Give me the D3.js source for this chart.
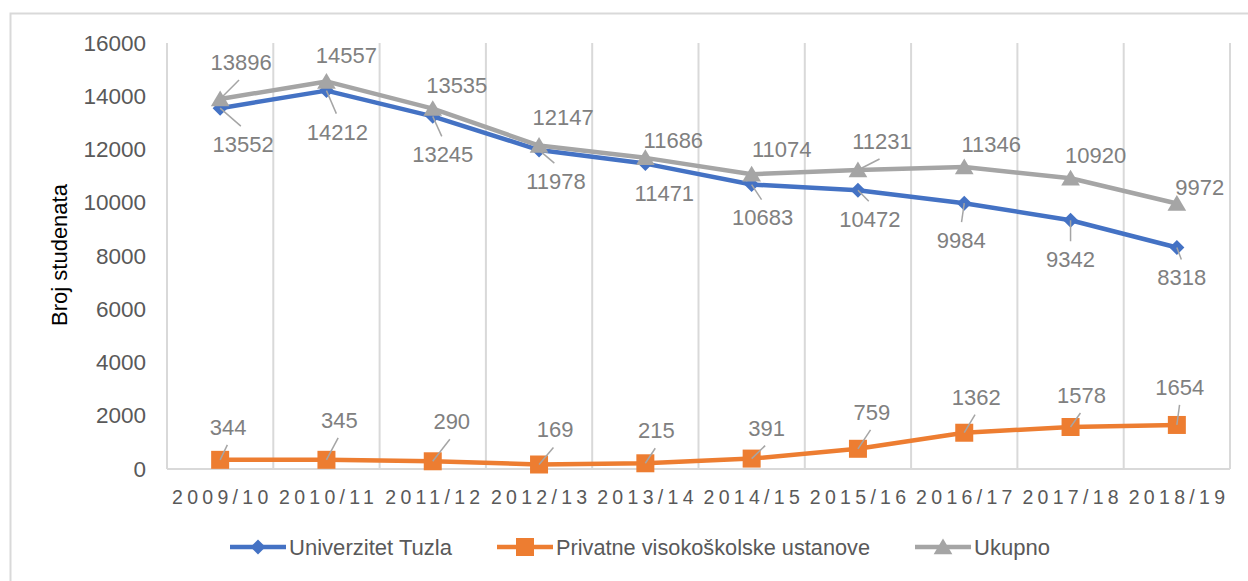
<!DOCTYPE html>
<html>
<head>
<meta charset="utf-8">
<script src="https://cdn.jsdelivr.net/npm/d3@7"></script>
<style>
  body { margin: 0; background: #fff; }
  svg { display: block; }
</style>
</head>
<body>
<svg id="chart" width="1248" height="581"></svg>
<script>
// data
const years = ["2009/10", "2010/11", "2011/12", "2012/13", "2013/14", "2014/15", "2015/16", "2016/17", "2017/18", "2018/19"];
const tuzla = [13552, 14212, 13245, 11978, 11471, 10683, 10472, 9984, 9342, 8318];
const privatne = [344, 345, 290, 169, 215, 391, 759, 1362, 1578, 1654];
const ukupno = [13896, 14557, 13535, 12147, 11686, 11074, 11231, 11346, 10920, 9972];
const yTicks = [0, 2000, 4000, 6000, 8000, 10000, 12000, 14000, 16000];

// where the data labels sit relative to their point (as in the picture), and which get a leader line
const tuzlaLbl = [[23, 36], [11, 41], [10, 38], [17, 31], [19, 29], [11, 33], [12, 29], [-3, 37], [0, 39], [5, 30]];
const privLbl = [[8, -33], [13, -40], [19, -40], [16, -35], [11, -33], [15, -31], [14, -37], [12, -36], [11, -32], [3, -38]];
const ukupLbl = [[21, -37], [20, -26], [24, -24], [24, -29], [28, -18], [30, -25], [24, -29], [27, -23], [25, -23], [23, -16]];
const tuzlaLead = [1, 1, 1, 1, 0, 1, 1, 1, 1, 1];
const privLead = [1, 1, 1, 1, 1, 1, 1, 1, 1, 1];
const ukupLead = [1, 0, 0, 0, 0, 0, 1, 0, 0, 0];

const svg = d3.select("#chart");
const plotL = 167, plotR = 1230, plotT = 43, plotB = 469;

const x = d3.scaleBand().domain(years).range([plotL, plotR]);
const y = d3.scaleLinear().domain([0, 16000]).range([plotB, plotT]);
const cx = d => x(d) + x.bandwidth() / 2;

// outer frame (top + left only visible)
svg.append("path")
    .attr("d", `M10.5,581 V13.5 H1248`)
    .attr("fill", "none")
    .attr("stroke", "#d9d9d9")
    .attr("stroke-width", 2);

// vertical gridlines
svg.append("g")
    .selectAll("line")
    .data(d3.range(years.length + 1))
    .join("line")
    .attr("x1", i => plotL + i * x.bandwidth())
    .attr("x2", i => plotL + i * x.bandwidth())
    .attr("y1", plotT)
    .attr("y2", plotB)
    .attr("stroke", "#d9d9d9")
    .attr("stroke-width", 2);

svg.append("line")
    .attr("x1", plotL).attr("x2", plotR)
    .attr("y1", plotB).attr("y2", plotB)
    .attr("stroke", "#d9d9d9")
    .attr("stroke-width", 2);

// y axis
const yAxis = svg.append("g")
    .attr("transform", `translate(${plotL},0)`)
    .call(d3.axisLeft(y).tickValues(yTicks).tickSize(0).tickPadding(21).tickFormat(d3.format("d")));
yAxis.select(".domain").remove();
yAxis.selectAll("text")
    .attr("font-family", "'Liberation Sans', Arial, sans-serif")
    .attr("font-size", 22.5)
    .attr("fill", "#595959");

// x labels
const ls = 4.3;
svg.append("g")
    .selectAll("text")
    .data(years)
    .join("text")
    .attr("x", d => cx(d) + ls / 2)
    .attr("y", 504)
    .attr("text-anchor", "middle")
    .attr("font-family", "'Liberation Sans', Arial, sans-serif")
    .attr("font-size", 19.5)
    .attr("letter-spacing", ls)
    .attr("fill", "#595959")
    .text(d => d);

// y title
svg.append("text")
    .attr("transform", "translate(67,255) rotate(-90)")
    .attr("text-anchor", "middle")
    .attr("font-family", "'Liberation Sans', Arial, sans-serif")
    .attr("font-size", 22)
    .attr("fill", "#000")
    .text("Broj studenata");

// marker shapes
const diamond = r => `M0,${-r}L${r},0L0,${r}L${-r},0Z`;
const square = r => `M${-r},${-r}H${r}V${r}H${-r}Z`;
const triangle = r => `M0,${-r}L${r * 1.1},${r * 0.85}H${-r * 1.1}Z`;

const series = [
    {name: "Univerzitet Tuzla", values: tuzla, color: "#4472C4", marker: diamond(7.5), lbl: tuzlaLbl, lead: tuzlaLead, below: true},
    {name: "Privatne visokoškolske ustanove", values: privatne, color: "#ED7D31", marker: square(9), lbl: privLbl, lead: privLead, below: false},
    {name: "Ukupno", values: ukupno, color: "#A5A5A5", marker: triangle(8.5), lbl: ukupLbl, lead: ukupLead, below: false}
];

const line = d3.line()
    .x((d, i) => cx(years[i]))
    .y(d => y(d));

series.forEach(s => {
    const g = svg.append("g");
    g.append("path")
        .attr("d", line(s.values))
        .attr("fill", "none")
        .attr("stroke", s.color)
        .attr("stroke-width", 4.5)
        .attr("stroke-linejoin", "round");
    g.selectAll(".mk")
        .data(s.values)
        .join("path")
        .attr("class", "mk")
        .attr("transform", (d, i) => `translate(${cx(years[i])},${y(d)})`)
        .attr("d", s.marker)
        .attr("fill", s.color);
});

// data labels and leader lines
series.forEach(s => {
    const g = svg.append("g");
    s.values.forEach((v, i) => {
        const px = cx(years[i]), py = y(v);
        const lx = px + s.lbl[i][0], ly = py + s.lbl[i][1];
        if (s.lead[i]) {
            const sy = s.below ? ly - 18 : ly + 18;
            const sx = lx - (lx - px) * 0.1;
            g.append("line")
                .attr("x1", sx).attr("y1", sy)
                .attr("x2", px).attr("y2", py)
                .attr("stroke", "#a5a5a5")
                .attr("stroke-width", 1.5);
        }
        g.append("text")
            .attr("x", lx)
            .attr("y", ly)
            .attr("dy", "0.36em")
            .attr("text-anchor", "middle")
            .attr("font-family", "'Liberation Sans', Arial, sans-serif")
            .attr("font-size", 22)
            .attr("fill", "#808080")
            .text(v);
    });
});

// legend
const legendX = [230, 497, 915];
const legendW = [163, 314, 76];
const legend = svg.append("g")
    .selectAll("g")
    .data(series)
    .join("g")
    .attr("transform", (d, i) => `translate(${legendX[i]},547)`);
legend.append("line")
    .attr("x1", 0).attr("x2", 56)
    .attr("stroke", d => d.color)
    .attr("stroke-width", 4.5);
legend.append("path")
    .attr("transform", "translate(28,0)")
    .attr("d", d => d.marker)
    .attr("fill", d => d.color);
legend.append("text")
    .attr("x", 59)
    .attr("dy", "0.36em")
    .attr("font-family", "'Liberation Sans Narrow', 'Arial Narrow', 'Liberation Sans', sans-serif")
    .attr("font-size", 22)
    .attr("fill", "#595959")
    .attr("textLength", (d, i) => legendW[i])
    .attr("lengthAdjust", "spacingAndGlyphs")
    .text(d => d.name);
</script>
</body>
</html>
